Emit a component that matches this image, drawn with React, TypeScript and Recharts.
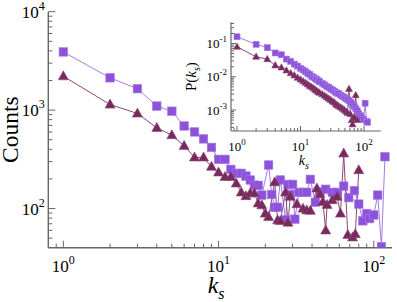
import { CartesianGrid, Label, Line, LineChart, XAxis, YAxis } from "recharts";

// main panel: raw counts per k_s
const mainKSquares = [1, 2, 3, 4, 5, 6, 7, 8, 9, 10, 11, 12, 13, 14, 15, 16, 17, 18, 19, 21, 22, 23, 24, 25, 27, 28, 29, 30, 31, 33, 35, 37, 39, 42, 45, 49, 54, 58, 64, 69, 75, 80, 85, 90, 94, 100, 106, 112, 118];
const mainCountSquares = [3900, 2130, 1650, 1100, 975, 690, 600, 510, 418, 316, 316, 250, 228, 228, 214, 195, 173, 172, 137, 277, 139, 103, 103, 195, 77, 176, 139, 176, 78, 146, 146, 146, 198, 116, 148, 157, 146, 146, 169, 129, 152, 111, 75, 89, 79, 86, 137, 41, 336];

const mainKTriangles = [1, 2, 3, 4, 5, 6, 7, 8, 9, 10, 11, 12, 13, 14, 15, 16, 17, 18, 19, 20, 21, 23, 24, 25, 27, 28, 29, 32, 35, 37, 39, 43, 45, 47, 49, 50, 54, 58, 61, 64, 68, 73, 76, 80];
const mainCountTriangles = [2210, 1140, 925, 660, 557, 434, 331, 331, 266, 233, 210, 210, 180, 146, 134, 143, 143, 113, 108, 89, 82, 185, 76, 75, 146, 72, 132, 111, 100, 96, 95, 160, 140, 117, 60, 109, 122, 132, 89, 363, 54, 51, 55, 246];

// inset: P(k_s)
const insetKSquares = [1, 2, 3, 4, 5, 6, 7, 8, 9, 10, 11, 12, 13, 14, 15, 16, 17, 18, 19, 20, 22, 24, 26, 28, 30, 32, 34, 36, 38, 40, 43, 46, 49, 52, 55, 58, 62, 66, 70, 74, 78, 82, 87, 92, 98, 104, 110, 114];
const insetPSquares = [0.16, 0.095, 0.075, 0.052, 0.046, 0.034, 0.029, 0.024, 0.021, 0.018, 0.016, 0.0142, 0.0128, 0.0118, 0.0104, 0.0097, 0.0088, 0.0082, 0.0076, 0.0071, 0.0063, 0.0057, 0.0051, 0.0047, 0.0043, 0.004, 0.0037, 0.0034, 0.0032, 0.0031, 0.0028, 0.0026, 0.0024, 0.0022, 0.0021, 0.0019, 0.0017, 0.0015, 0.0013, 0.0011, 0.00095, 0.0008, 0.00068, 0.0006, 0.00052, 0.0016, 0.00046, 0.00043];

const insetKTriangles = [1, 2, 3, 4, 5, 6, 7, 8, 9, 10, 11, 12, 13, 14, 15, 16, 17, 18, 19, 20, 22, 24, 26, 28, 30, 32, 34, 36, 38, 40, 43, 46, 49, 52, 55, 58, 61, 64, 66, 70, 74, 78];
const insetPTriangles = [0.08, 0.04, 0.034, 0.022, 0.019, 0.0155, 0.0128, 0.011, 0.0094, 0.0083, 0.0073, 0.0066, 0.0059, 0.0053, 0.0049, 0.0045, 0.0041, 0.0038, 0.0035, 0.0033, 0.003, 0.0027, 0.0024, 0.0022, 0.002, 0.0018, 0.0017, 0.0015, 0.0014, 0.0013, 0.0012, 0.0011, 0.001, 0.0009, 0.00082, 0.0043, 0.00075, 0.0005, 0.00037, 0.0006, 0.0028, 0.0005];

const mainXTicks = [0.9, 1, 2, 3, 4, 5, 6, 7, 8, 9, 10, 20, 30, 40, 50, 60, 70, 80, 90, 100];
const mainYTicks = [50, 60, 70, 80, 90, 100, 200, 300, 400, 500, 600, 700, 800, 900, 1000, 2000, 3000, 4000, 5000, 6000, 7000, 8000, 9000, 10000];
const insetXTicks = [0.9, 1, 2, 3, 4, 5, 6, 7, 8, 9, 10, 20, 30, 40, 50, 60, 70, 80, 90, 100];
const insetYTicks = [0.0003, 0.0004, 0.0005, 0.0006, 0.0007, 0.0008, 0.0009, 0.001, 0.002, 0.003, 0.004, 0.005, 0.006, 0.007, 0.008, 0.009, 0.01, 0.02, 0.03, 0.04, 0.05, 0.06, 0.07, 0.08, 0.09, 0.1, 0.2, 0.3, 0.4];

const zip = (ks: number[], vs: number[]) => ks.map((k, i) => ({ k, v: vs[i] }));

const PURPLE = "#8e51da";
const PURPLE_LINE = "#a47ae8";
const MAROON = "#782a5c";
const MAROON_LINE = "#8c4878";
const AXIS = "#666";
const FONT = '"Liberation Serif", "Times New Roman", serif';

type Side = "bottom" | "left" | "top" | "right";

function makeTick(side: Side, o: { major: number; minor: number; font: number; sup: number; supDy: number; gap: number; base: number; labels: boolean }) {
  return (props: any) => {
    const { x, y, payload } = props;
    const e = Math.log10(payload.value);
    const isMajor = Math.abs(e - Math.round(e)) < 1e-6;
    const len = isMajor ? o.major : o.minor;
    let x2 = x;
    let y2 = y;
    if (side === "bottom") y2 = y - len;
    if (side === "top") y2 = y + len;
    if (side === "left") x2 = x + len;
    if (side === "right") x2 = x - len;
    const exp = String(Math.round(e));
    let label = null;
    if (o.labels && isMajor) {
      const lx = side === "bottom" ? x : x - o.gap;
      const ly = side === "bottom" ? y + o.gap : y + o.base;
      label = (
        <text x={lx} y={ly} textAnchor={side === "bottom" ? "middle" : "end"} fontFamily={FONT} fontSize={o.font} fill="#000">
          <tspan>10</tspan>
          <tspan dy={o.supDy} fontSize={o.sup}>{exp}</tspan>
        </text>
      );
    }
    return (
      <g>
        <line x1={x} y1={y} x2={x2} y2={y2} stroke={AXIS} strokeWidth={1} />
        {label}
      </g>
    );
  };
}

function squareDot(size: number) {
  return (props: any) => {
    const { cx, cy, index } = props;
    if (cx == null || cy == null) return <g key={`s-${index}`} />;
    return <rect key={`s-${index}`} x={cx - size / 2} y={cy - size / 2} width={size} height={size} fill={PURPLE} stroke={PURPLE_LINE} strokeWidth={0.6} />;
  };
}

function triangleDot(size: number) {
  return (props: any) => {
    const { cx, cy, index } = props;
    if (cx == null || cy == null) return <g key={`t-${index}`} />;
    const h = size * 0.9;
    const pts = `${cx},${cy - h * 0.6} ${cx - size / 2},${cy + h * 0.4} ${cx + size / 2},${cy + h * 0.4}`;
    return <polygon key={`t-${index}`} points={pts} fill={MAROON} stroke={MAROON_LINE} strokeWidth={0.6} />;
  };
}

const mainTick = { major: 7, minor: 4, font: 17, sup: 12, supDy: -8, gap: 24.3, base: 6, labels: true };
const mainYTick = { ...mainTick, gap: 3.5 };
const insetTick = { major: 5, minor: 3, font: 13, sup: 9, supDy: -6, gap: 20, base: 4.6, labels: true };
const insetYTick = { ...insetTick, gap: 4 };
const noLabel = { major: 7, minor: 4, font: 0, sup: 0, supDy: 0, gap: 0, base: 0, labels: false };
const noLabelInset = { major: 5, minor: 3, font: 0, sup: 0, supDy: 0, gap: 0, base: 0, labels: false };

function MainChart() {
  return (
    <LineChart width={397} height={302} margin={{ top: 11.7, right: 5, bottom: 0, left: 0 }}>
      <XAxis
        xAxisId="b"
        dataKey="k"
        type="number"
        scale="log"
        domain={[0.8, 131]}
        allowDataOverflow
        ticks={mainXTicks}
        interval={0}
        height={54.3}
        tickSize={0}
        tickMargin={0}
        tickLine={false}
        axisLine={{ stroke: AXIS, strokeWidth: 1.4 }}
        tick={makeTick("bottom", mainTick)}
      >
        <Label
          content={({ viewBox }: any) => (
            <text x={viewBox.x + viewBox.width / 2 - 4} y={viewBox.y + 45.5} textAnchor="middle" fontFamily={FONT} fill="#000">
              <tspan fontSize={24} fontStyle="italic">k</tspan>
              <tspan fontSize={16} fontStyle="italic" dy={6}>s</tspan>
            </text>
          )}
        />
      </XAxis>
      <XAxis
        xAxisId="t"
        orientation="top"
        type="number"
        scale="log"
        domain={[0.8, 131]}
        allowDataOverflow
        ticks={mainXTicks}
        interval={0}
        height={0}
        tickSize={0}
        tickMargin={0}
        tickLine={false}
        axisLine={{ stroke: AXIS, strokeWidth: 1.4 }}
        tick={makeTick("top", noLabel)}
      />
      <YAxis
        yAxisId="l"
        type="number"
        scale="log"
        domain={[40, 10000]}
        allowDataOverflow
        ticks={mainYTicks}
        interval={0}
        width={48.3}
        tickSize={0}
        tickMargin={0}
        tickLine={false}
        axisLine={{ stroke: AXIS, strokeWidth: 1.4 }}
        tick={makeTick("left", mainYTick)}
      >
        <Label
          content={({ viewBox }: any) => (
            <text transform={`translate(${viewBox.x + 18},${viewBox.y + viewBox.height / 2}) rotate(-90)`} textAnchor="middle" fontFamily={FONT} fontSize={23.5} fill="#000">
              Counts
            </text>
          )}
        />
      </YAxis>
      <YAxis
        yAxisId="r"
        orientation="right"
        type="number"
        scale="log"
        domain={[40, 10000]}
        allowDataOverflow
        ticks={mainYTicks}
        interval={0}
        width={0}
        tickSize={0}
        tickMargin={0}
        tickLine={false}
        axisLine={{ stroke: AXIS, strokeWidth: 1.4 }}
        tick={makeTick("right", noLabel)}
      />
      <Line
        xAxisId="b"
        yAxisId="l"
        data={zip(mainKSquares, mainCountSquares)}
        dataKey="v"
        type="linear"
        stroke={PURPLE_LINE}
        strokeWidth={1}
        dot={squareDot(8.5)}
        activeDot={false}
        isAnimationActive={false}
      />
      <Line
        xAxisId="b"
        yAxisId="l"
        data={zip(mainKTriangles, mainCountTriangles)}
        dataKey="v"
        type="linear"
        stroke={MAROON_LINE}
        strokeWidth={1}
        dot={triangleDot(10)}
        activeDot={false}
        isAnimationActive={false}
      />
    </LineChart>
  );
}

function InsetChart() {
  return (
    <LineChart width={210} height={160} margin={{ top: 7.3, right: 9.3, bottom: 0, left: 0 }}>
      <CartesianGrid xAxisId="b" yAxisId="l" horizontal={false} vertical={false} fill="#fff" fillOpacity={1} />
      <XAxis
        xAxisId="b"
        dataKey="k"
        type="number"
        scale="log"
        domain={[0.805, 183]}
        allowDataOverflow
        ticks={insetXTicks}
        interval={0}
        height={44}
        tickSize={0}
        tickMargin={0}
        tickLine={false}
        axisLine={{ stroke: AXIS, strokeWidth: 1.2 }}
        tick={makeTick("bottom", insetTick)}
      >
        <Label
          content={({ viewBox }: any) => (
            <text x={viewBox.x + viewBox.width / 2 - 2} y={viewBox.y + 34} textAnchor="middle" fontFamily={FONT} fill="#000">
              <tspan fontSize={14} fontStyle="italic">k</tspan>
              <tspan fontSize={10} fontStyle="italic" dy={4}>s</tspan>
            </text>
          )}
        />
      </XAxis>
      <XAxis
        xAxisId="t"
        orientation="top"
        type="number"
        scale="log"
        domain={[0.805, 183]}
        allowDataOverflow
        ticks={insetXTicks}
        interval={0}
        height={0}
        tickSize={0}
        tickMargin={0}
        tickLine={false}
        axisLine={{ stroke: AXIS, strokeWidth: 1.2 }}
        tick={makeTick("top", noLabelInset)}
      />
      <YAxis
        yAxisId="l"
        type="number"
        scale="log"
        domain={[0.000234, 0.435]}
        allowDataOverflow
        ticks={insetYTicks}
        interval={0}
        width={51}
        tickSize={0}
        tickMargin={0}
        tickLine={false}
        axisLine={{ stroke: AXIS, strokeWidth: 1.2 }}
        tick={makeTick("left", insetYTick)}
      >
        <Label
          content={({ viewBox }: any) => (
            <text transform={`translate(${viewBox.x + 16},${viewBox.y + viewBox.height / 2}) rotate(-90)`} textAnchor="middle" fontFamily={FONT} fontSize={15} fill="#000">
              <tspan>P(</tspan>
              <tspan fontStyle="italic">k</tspan>
              <tspan fontStyle="italic" fontSize={10} dy={4}>s</tspan>
              <tspan dy={-4}>)</tspan>
            </text>
          )}
        />
      </YAxis>
      <YAxis
        yAxisId="r"
        orientation="right"
        type="number"
        scale="log"
        domain={[0.000234, 0.435]}
        allowDataOverflow
        ticks={insetYTicks}
        interval={0}
        width={0}
        tickSize={0}
        tickMargin={0}
        tickLine={false}
        axisLine={{ stroke: AXIS, strokeWidth: 1.2 }}
        tick={makeTick("right", noLabelInset)}
      />
      <Line
        xAxisId="b"
        yAxisId="l"
        data={zip(insetKSquares, insetPSquares)}
        dataKey="v"
        type="linear"
        stroke={PURPLE_LINE}
        strokeWidth={1}
        dot={squareDot(6)}
        activeDot={false}
        isAnimationActive={false}
      />
      <Line
        xAxisId="b"
        yAxisId="l"
        data={zip(insetKTriangles, insetPTriangles)}
        dataKey="v"
        type="linear"
        stroke={MAROON_LINE}
        strokeWidth={1}
        dot={triangleDot(7)}
        activeDot={false}
        isAnimationActive={false}
      />
    </LineChart>
  );
}

export default function App() {
  return (
    <div style={{ position: "absolute", left: 0, top: 0, width: 397, height: 302, background: "#fff" }}>
      <MainChart />
      <div style={{ position: "absolute", left: 180, top: 15 }}>
        <InsetChart />
      </div>
    </div>
  );
}
